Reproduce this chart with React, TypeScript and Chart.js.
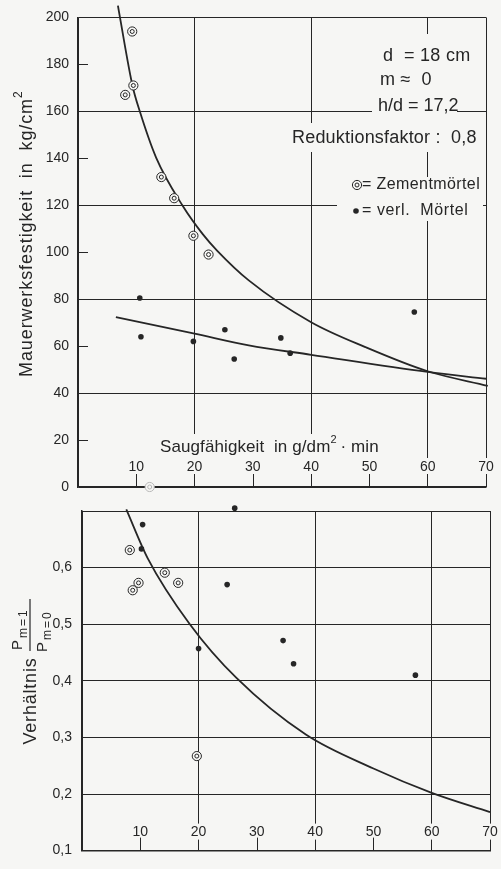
import React, { useEffect, useRef } from 'react';
import { Chart, registerables } from 'chart.js';
Chart.register(...registerables);

const W = 501;
const H = 869;
const BG = '#f6f6f4';
const INK = '#262626';
const CLEAR = 'rgba(0,0,0,0)';
const FONT = '"Liberation Sans", Arial, sans-serif';

// shared x axis (Saugfähigkeit in g/dm²·min)
const xTickLabels = [10, 20, 30, 40, 50, 60, 70];
const xShortTicks = [10, 30, 50];

// ---- top panel: Mauerwerksfestigkeit in kg/cm² ----
const topShortTicks = [20, 60, 100, 140, 180];
const topZementX = [9.3, 9.5, 8.1, 14.3, 16.5, 19.8, 22.4];
const topZementY = [194, 171, 167, 132, 123, 107, 99];
const topVerlX = [10.6, 10.8, 19.8, 25.2, 26.8, 34.8, 36.4, 57.7];
const topVerlY = [80.5, 64, 62, 67, 54.5, 63.5, 57, 74.5];
const topFaintX = [12.3];
const topFaintY = [0];
const topCurveZX = [6.85, 7.2, 9.37, 10.6, 13.4, 17.9, 21.4, 23.9, 29.3, 40, 49.3, 60, 70.3];
const topCurveZY = [205, 200, 170.7, 160, 140.3, 120, 107.7, 100.6, 88, 70.2, 59.6, 49.3, 43.1];
const topCurveVX = [6.5, 20, 29.3, 40, 60, 70];
const topCurveVY = [72.3, 65.3, 60.3, 56.3, 49, 46.1];

// ---- bottom panel: Verhältnis P(m=1)/P(m=0) ----
const botZementX = [21.7, 8.2, 9.7, 8.7, 14.2, 16.5, 19.7];
const botZementY = [0.715, 0.631, 0.573, 0.56, 0.591, 0.573, 0.267];
const botVerlX = [26.2, 10.4, 10.2, 24.9, 20.0, 34.5, 36.3, 57.2];
const botVerlY = [0.705, 0.676, 0.633, 0.57, 0.457, 0.471, 0.43, 0.41];
const botCurveX = [7.6, 11.3, 18.5, 26.5, 38.4, 50, 60, 70];
const botCurveY = [0.703, 0.616, 0.5, 0.405, 0.305, 0.245, 0.202, 0.168];

const pts = (xs: number[], ys: number[]) => xs.map((x, i) => ({ x, y: ys[i] }));

function setFont(ctx: CanvasRenderingContext2D, size: number, spacing = 0) {
  ctx.font = `${size}px ${FONT}`;
  (ctx as any).letterSpacing = `${spacing}px`;
}

function box(ctx: CanvasRenderingContext2D, x0: number, y0: number, x1: number, y1: number) {
  ctx.fillStyle = BG;
  ctx.fillRect(x0, y0, x1 - x0, y1 - y0);
}

function text(ctx: CanvasRenderingContext2D, s: string, x: number, y: number, size: number, align: CanvasTextAlign = 'left', spacing = 0) {
  setFont(ctx, size, spacing);
  ctx.fillStyle = INK;
  ctx.textAlign = align;
  ctx.textBaseline = 'middle';
  ctx.fillText(s, x, y);
}

function ringSymbol(ctx: CanvasRenderingContext2D, x: number, y: number) {
  ctx.strokeStyle = INK;
  ctx.lineWidth = 1;
  ctx.beginPath();
  ctx.arc(x, y, 4.6, 0, Math.PI * 2);
  ctx.stroke();
  ctx.beginPath();
  ctx.arc(x, y, 2, 0, Math.PI * 2);
  ctx.stroke();
}

function dotSymbol(ctx: CanvasRenderingContext2D, x: number, y: number) {
  ctx.fillStyle = INK;
  ctx.beginPath();
  ctx.arc(x, y, 2.8, 0, Math.PI * 2);
  ctx.fill();
}

function xLabels(ctx: CanvasRenderingContext2D, xs: any, bottom: number, off: number) {
  setFont(ctx, 14);
  for (const v of xTickLabels) {
    const px = xs.getPixelForValue(v);
    const w = ctx.measureText(String(v)).width;
    box(ctx, px - w / 2 - 3, bottom - off - 9, px + w / 2 + 3, bottom - off + 7);
    text(ctx, String(v), px, bottom - off, 14, 'center');
  }
  ctx.strokeStyle = INK;
  ctx.lineWidth = 1;
  for (const v of xShortTicks) {
    const px = Math.round(xs.getPixelForValue(v)) + 0.5;
    ctx.beginPath();
    ctx.moveTo(px, bottom - 13);
    ctx.lineTo(px, bottom);
    ctx.stroke();
  }
}

const topDecor = {
  id: 'topDecor',
  beforeDatasetsDraw(chart: any) {
    const ctx: CanvasRenderingContext2D = chart.ctx;
    const xs = chart.scales.x;
    const ys = chart.scales.y;
    ctx.save();
    // short y ticks
    ctx.strokeStyle = INK;
    ctx.lineWidth = 1;
    for (const v of topShortTicks) {
      const py = Math.round(ys.getPixelForValue(v)) + 0.5;
      ctx.beginPath();
      ctx.moveTo(xs.left, py);
      ctx.lineTo(xs.left + 10, py);
      ctx.stroke();
    }
    // annotation backgrounds
    box(ctx, 376, 34, 474, 68);
    box(ctx, 374, 66, 446, 93);
    box(ctx, 372, 93, 457, 123);
    box(ctx, 288, 123, 482, 152);
    box(ctx, 337, 177, 483, 221);
    text(ctx, 'd  = 18 cm', 383, 56, 18, 'left', 0.3);
    text(ctx, 'm ≈  0', 380, 80, 18, 'left', 0.3);
    text(ctx, 'h/d = 17,2', 378, 106, 18, 'left', 0);
    text(ctx, 'Reduktionsfaktor :  0,8', 292, 138, 18, 'left', 0.2);
    ringSymbol(ctx, 357, 185);
    text(ctx, '= Zementmörtel', 362, 185, 16, 'left', 0.4);
    dotSymbol(ctx, 356, 211);
    text(ctx, '= verl.  Mörtel', 362, 211, 16, 'left', 0.6);
    // x axis title
    box(ctx, 150, 434, 392, 458);
    setFont(ctx, 17, 0.1);
    const t1 = 'Saugfähigkeit  in g/dm';
    const w1 = ctx.measureText(t1).width;
    text(ctx, t1, 160, 447, 17, 'left', 0.1);
    text(ctx, '2', 160 + w1, 440, 11, 'left');
    text(ctx, '· min', 160 + w1 + 10, 447, 17, 'left', 0.1);
    // x tick labels inside the plot
    xLabels(ctx, xs, ys.bottom, 20);
    // y title
    ctx.translate(27, 234);
    ctx.rotate(-Math.PI / 2);
    setFont(ctx, 18, 0.9);
    const m = 'Mauerwerksfestigkeit  in  kg/cm';
    const mw = ctx.measureText(m).width;
    const total = mw + 7;
    text(ctx, m, -total / 2, 0, 18, 'left', 0.9);
    text(ctx, '2', -total / 2 + mw, -8, 12, 'left');
    ctx.restore();
  },
};

const botDecor = {
  id: 'botDecor',
  beforeDatasetsDraw(chart: any) {
    const ctx: CanvasRenderingContext2D = chart.ctx;
    const xs = chart.scales.x;
    const ys = chart.scales.y;
    ctx.save();
    xLabels(ctx, xs, ys.bottom, 18);
    // y title: Verhältnis
    ctx.save();
    ctx.translate(31, 701);
    ctx.rotate(-Math.PI / 2);
    text(ctx, 'Verhältnis', 0, 0, 18, 'center', 0.8);
    ctx.restore();
    // fraction P(m=1)/P(m=0)
    ctx.save();
    ctx.translate(30, 625);
    ctx.rotate(-Math.PI / 2);
    ctx.strokeStyle = INK;
    ctx.lineWidth = 1.2;
    ctx.beginPath();
    ctx.moveTo(-26, 0);
    ctx.lineTo(26, 0);
    ctx.stroke();
    ctx.fillStyle = INK;
    ctx.textBaseline = 'alphabetic';
    ctx.textAlign = 'left';
    setFont(ctx, 15);
    ctx.fillText('P', -25, -8);
    setFont(ctx, 12, 2);
    ctx.fillText('m=1', -13, -3);
    setFont(ctx, 15);
    ctx.fillText('P', -27, 17);
    setFont(ctx, 12, 2);
    ctx.fillText('m=0', -15, 21);
    ctx.restore();
    ctx.restore();
  },
};

const gridX = (c: any) => (c.tick && (c.tick.value % 20 === 0 || c.tick.value === 70) ? INK : CLEAR);

function ringSets(data: { x: number; y: number }[], color = INK) {
  return [
    { type: 'scatter', data, pointRadius: 4.6, pointBorderWidth: 1, pointBorderColor: color, pointBackgroundColor: BG, clip: false, order: 2 },
    { type: 'scatter', data, pointRadius: 2, pointBorderWidth: 1, pointBorderColor: color, pointBackgroundColor: BG, clip: false, order: 1 },
  ];
}

function dotSet(data: { x: number; y: number }[]) {
  return { type: 'scatter', data, pointRadius: 2.8, pointBorderWidth: 0, pointBackgroundColor: INK, pointBorderColor: INK, clip: false, order: 1 };
}

function curveSet(data: { x: number; y: number }[]) {
  return { type: 'line', data, showLine: true, pointRadius: 0, borderWidth: 1.8, borderColor: INK, fill: false, cubicInterpolationMode: 'monotone', clip: false, order: 3 };
}

export default function App() {
  const topRef = useRef<HTMLCanvasElement>(null);
  const botRef = useRef<HTMLCanvasElement>(null);

  useEffect(() => {
    const top = new Chart(topRef.current as HTMLCanvasElement, {
      type: 'scatter',
      data: {
        datasets: [
          curveSet(pts(topCurveZX, topCurveZY)),
          curveSet(pts(topCurveVX, topCurveVY)),
          ...ringSets(pts(topZementX, topZementY)),
          ...ringSets(pts(topFaintX, topFaintY), '#b8b8b8'),
          dotSet(pts(topVerlX, topVerlY)),
        ] as any,
      },
      options: {
        animation: false,
        responsive: false,
        devicePixelRatio: 1,
        layout: { padding: { left: 0, top: 16, right: W - 486, bottom: H - 487 }, autoPadding: false } as any,
        plugins: { legend: { display: false }, tooltip: { enabled: false }, title: { display: false } },
        scales: {
          x: {
            type: 'linear', min: 0, max: 70,
            ticks: { stepSize: 10, display: false },
            grid: { color: gridX, lineWidth: 1, drawTicks: false },
            border: { color: INK, width: 1.5 },
            afterFit: (s: any) => { s.height = 0; },
          },
          y: {
            type: 'linear', min: 0, max: 200,
            ticks: { stepSize: 20, color: INK, padding: 9, font: { family: FONT, size: 14 } },
            grid: { color: (c: any) => (c.tick && c.tick.value % 40 === 0 ? INK : CLEAR), lineWidth: 1, drawTicks: false },
            border: { color: INK, width: 1.5 },
            afterFit: (s: any) => { s.width = 78; },
          },
        },
      } as any,
      plugins: [topDecor],
    });

    const bot = new Chart(botRef.current as HTMLCanvasElement, {
      type: 'scatter',
      data: {
        datasets: [
          curveSet(pts(botCurveX, botCurveY)),
          ...ringSets(pts(botZementX, botZementY)),
          dotSet(pts(botVerlX, botVerlY)),
        ] as any,
      },
      options: {
        animation: false,
        responsive: false,
        devicePixelRatio: 1,
        layout: { padding: { left: 0, top: 511, right: W - 490, bottom: H - 863 }, autoPadding: false } as any,
        plugins: { legend: { display: false }, tooltip: { enabled: false }, title: { display: false } },
        scales: {
          x: {
            type: 'linear', min: 0, max: 70,
            ticks: { stepSize: 10, display: false },
            grid: { color: gridX, lineWidth: 1, drawTicks: false },
            border: { color: INK, width: 1.5 },
            afterFit: (s: any) => { s.height = 0; },
          },
          y: {
            type: 'linear', min: 0.1, max: 0.7,
            ticks: {
              stepSize: 0.1, color: INK, padding: 10, font: { family: FONT, size: 14 },
              callback: (v: any) => (Math.abs(v - 0.7) < 1e-6 ? '' : Number(v).toFixed(1).replace('.', ',')),
            },
            grid: { color: INK, lineWidth: 1, drawTicks: false },
            border: { color: INK, width: 1.5 },
            afterFit: (s: any) => { s.width = 82; },
          },
        },
      } as any,
      plugins: [botDecor],
    });

    return () => {
      top.destroy();
      bot.destroy();
    };
  }, []);

  return (
    <div style={{ position: 'absolute', left: 0, top: 0, width: W, height: H, background: BG, overflow: 'hidden' }}>
      <canvas ref={botRef} width={W} height={H} style={{ position: 'absolute', left: 0, top: 0 }} />
      <canvas ref={topRef} width={W} height={H} style={{ position: 'absolute', left: 0, top: 0 }} />
    </div>
  );
}
